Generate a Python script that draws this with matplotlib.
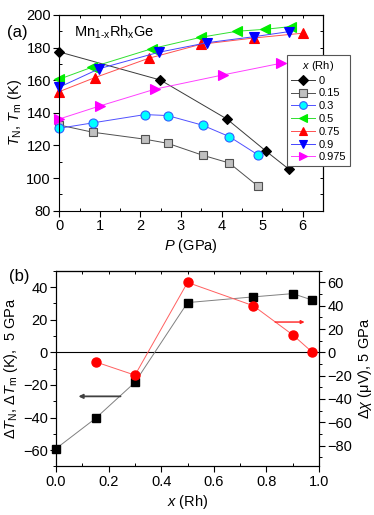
import numpy as np
import matplotlib
matplotlib.use("Agg")
import matplotlib.pyplot as plt
from matplotlib.ticker import MultipleLocator

plt.rcParams['font.family'] = ['Liberation Sans', 'DejaVu Sans']
plt.rcParams['mathtext.fontset'] = 'custom'
plt.rcParams['mathtext.rm'] = 'Liberation Sans'
plt.rcParams['mathtext.it'] = 'Liberation Sans:italic'
plt.rcParams['mathtext.bf'] = 'Liberation Sans:bold'
plt.rcParams['axes.linewidth'] = 0.8

# ---- panel (a): T_N, T_m vs pressure for each Rh content
series_labels = ['0', '0.15', '0.3', '0.5', '0.75', '0.9', '0.975']
p0 = [0.0, 2.49, 4.13, 5.10, 5.66]
t0 = [177.3, 160.1, 136.2, 116.4, 105.4]
p15 = [0.0, 0.82, 2.11, 2.67, 3.53, 4.19, 4.89]
t15 = [132.5, 128.1, 123.8, 121.3, 114.0, 109.2, 95.1]
p30 = [0.0, 0.82, 2.11, 2.67, 3.53, 4.19, 4.89]
t30 = [130.5, 133.8, 138.9, 138.3, 132.4, 125.4, 114.3]
p50 = [0.0, 0.80, 2.28, 3.49, 4.38, 5.08, 5.72]
t50 = [160.6, 167.9, 179.3, 186.3, 190.0, 191.2, 192.9]
p75 = [0.0, 0.88, 2.20, 3.49, 4.81, 6.0]
t75 = [153.0, 161.6, 173.4, 182.0, 185.9, 188.8]
p90 = [0.0, 0.99, 2.45, 3.65, 4.81, 5.67]
t90 = [155.7, 167.1, 177.1, 183.0, 186.7, 189.8]
p975 = [0.0, 1.0, 2.36, 4.03, 5.47]
t975 = [136.2, 144.2, 154.5, 163.2, 170.4]

# ---- panel (b): changes at 5 GPa vs Rh content
x_rh = [0.0, 0.15, 0.3, 0.5, 0.75, 0.9, 0.975]
dT = [-59, -40.5, -18.4, 30.5, 34, 36, 32]
x_chi = [0.15, 0.3, 0.5, 0.75, 0.9, 0.975]
dchi = [-8.2, -19.6, 60, 40, 15, 0]

a_xticks = [0, 1, 2, 3, 4, 5, 6]
a_yticks = [80, 100, 120, 140, 160, 180, 200]
b_xticks = [0.0, 0.2, 0.4, 0.6, 0.8, 1.0]
b_yticks = [-60, -40, -20, 0, 20, 40]
b_y2ticks = [-80, -60, -40, -20, 0, 20, 40, 60]

fig = plt.figure(figsize=(3.74, 5.15), dpi=100)
ax1 = fig.add_axes([0.1586, 0.591, 0.705, 0.380])

styles = [
    dict(marker='D', mfc='black', mec='black', color='#3a3a3a', ms=5.5),
    dict(marker='s', mfc='#c0c0c0', mec='#505050', color='#505050', ms=5.5),
    dict(marker='o', mfc='#00ffff', mec='#3060ff', color='#5050ff', ms=6.5),
    dict(marker='<', mfc='#00ee00', mec='#00ee00', color='#30e030', ms=6.5),
    dict(marker='^', mfc='#ff0000', mec='#ff0000', color='#ff5050', ms=6.5),
    dict(marker='v', mfc='#0000ff', mec='#0000ff', color='#4545ff', ms=6.5),
    dict(marker='>', mfc='#ff00ff', mec='#ff00ff', color='#ff40ff', ms=6.5),
]
pdata = [p0, p15, p30, p50, p75, p90, p975]
tdata = [t0, t15, t30, t50, t75, t90, t975]
for p, t, lab, st in zip(pdata, tdata, series_labels, styles):
    ax1.plot(p, t, lw=0.7, mew=0.8, label=lab, clip_on=False, **st)

ax1.set_xlim(0, 6.5)
ax1.set_ylim(80, 200)
ax1.set_xticks(a_xticks)
ax1.set_yticks(a_yticks)
ax1.xaxis.set_minor_locator(MultipleLocator(0.5))
ax1.yaxis.set_minor_locator(MultipleLocator(10))
ax1.tick_params(which='major', direction='out', length=4, width=0.8, labelsize=10.5, pad=2)
ax1.tick_params(which='minor', direction='in', length=2.5, width=0.7)
sx = ax1.secondary_xaxis('top')
sx.set_xticks(np.arange(0, 6.6, 0.5))
sx.tick_params(direction='in', length=2.5, width=0.7, labeltop=False)
sy = ax1.secondary_yaxis('right')
sy.set_yticks(np.arange(80, 201, 10))
sy.tick_params(direction='in', length=2.5, width=0.7, labelright=False)
ax1.set_xlabel('$P$ (GPa)', fontsize=10.5, labelpad=3)
ax1.set_ylabel('$T_{\\mathrm{N}}$, $T_{\\mathrm{m}}$ (K)', fontsize=10.5, labelpad=2)
ax1.text(0.36, 189.5, 'Mn$_{\\mathrm{1\u2010x}}$Rh$_{\\mathrm{x}}$Ge', fontsize=10.5, va='center')
fig.text(0.018, 1 - 32 / 515, '(a)', fontsize=12, va='center')

leg = ax1.legend(title='$x$ (Rh)', loc='upper left',
                 bbox_to_anchor=(287 / 374, 1 - 55 / 515), bbox_transform=fig.transFigure,
                 fontsize=8, title_fontsize=8, frameon=True, fancybox=False,
                 edgecolor='#555555', framealpha=1, borderpad=0.35,
                 labelspacing=0.25, handlelength=2.2, handletextpad=0.3,
                 borderaxespad=0)
leg.get_frame().set_linewidth(0.8)
for h in leg.legend_handles:
    h.set_markersize(5.5)

# ---- panel (b)
ax2 = fig.add_axes([0.150, 0.0942, 0.703, 0.380])
ax2.axhline(0, color='black', lw=0.8)
ax2.plot(x_rh, dT, marker='s', ms=5.5, mfc='black', mec='black', color='#808080',
         lw=0.7, clip_on=False)
ax2.set_xlim(0, 1)
ax2.set_ylim(-70, 50)
ax2.set_xticks(b_xticks)
ax2.set_xticklabels([f'{v:.1f}' for v in b_xticks])
ax2.set_yticks(b_yticks)
ax2.xaxis.set_minor_locator(MultipleLocator(0.1))
ax2.yaxis.set_minor_locator(MultipleLocator(10))
ax2.tick_params(axis='y', which='major', direction='out', length=4, width=0.8, labelsize=10.5, pad=2)
ax2.tick_params(axis='y', which='minor', direction='out', length=2.5, width=0.7)
ax2.tick_params(axis='x', which='major', direction='out', length=4, width=0.8, labelsize=10.5, pad=2)
ax2.tick_params(axis='x', which='minor', direction='in', length=2.5, width=0.7)
sx2 = ax2.secondary_xaxis('top')
sx2.set_xticks(np.arange(0, 1.01, 0.1))
sx2.tick_params(direction='in', length=2.5, width=0.7, labeltop=False)
ax2.set_xlabel('$x$ (Rh)', fontsize=10.5, labelpad=3)
ax2.set_ylabel('$\\mathit{\\Delta T}_{\\mathrm{N}}$, $\\mathit{\\Delta T}_{\\mathrm{m}}$ (K),  5 GPa',
               fontsize=10.5, labelpad=2)
ax2.annotate('', xy=(0.085, -27), xytext=(0.245, -27),
             arrowprops=dict(arrowstyle='-|>', color='#404040', lw=1.3, mutation_scale=6,
                             shrinkA=0, shrinkB=0))
fig.text(0.025, 1 - 276 / 515, '(b)', fontsize=12, va='center')

ax3 = ax2.twinx()
ax3.plot(x_chi, dchi, marker='o', ms=6.5, mfc='#ff0000', mec='#ff0000', color='#ff6060',
         lw=0.7, clip_on=False)
ax3.set_ylim(-98, 70)
ax3.set_yticks(b_y2ticks)
ax3.yaxis.set_minor_locator(MultipleLocator(10))
ax3.tick_params(which='major', direction='out', length=4, width=0.8, labelsize=10.5, pad=2)
ax3.tick_params(which='minor', direction='out', length=2.5, width=0.7)
ax3.set_ylabel('$\\mathit{\\Delta\\chi}$ (\u03bcV), 5 GPa', fontsize=10.5, rotation=90, labelpad=3)
ax3.annotate('', xy=(0.945, 26), xytext=(0.833, 26),
             arrowprops=dict(arrowstyle='-|>', color='#ff2020', lw=1.0, mutation_scale=5,
                             shrinkA=0, shrinkB=0))

fig.savefig('out.png', dpi=100)
